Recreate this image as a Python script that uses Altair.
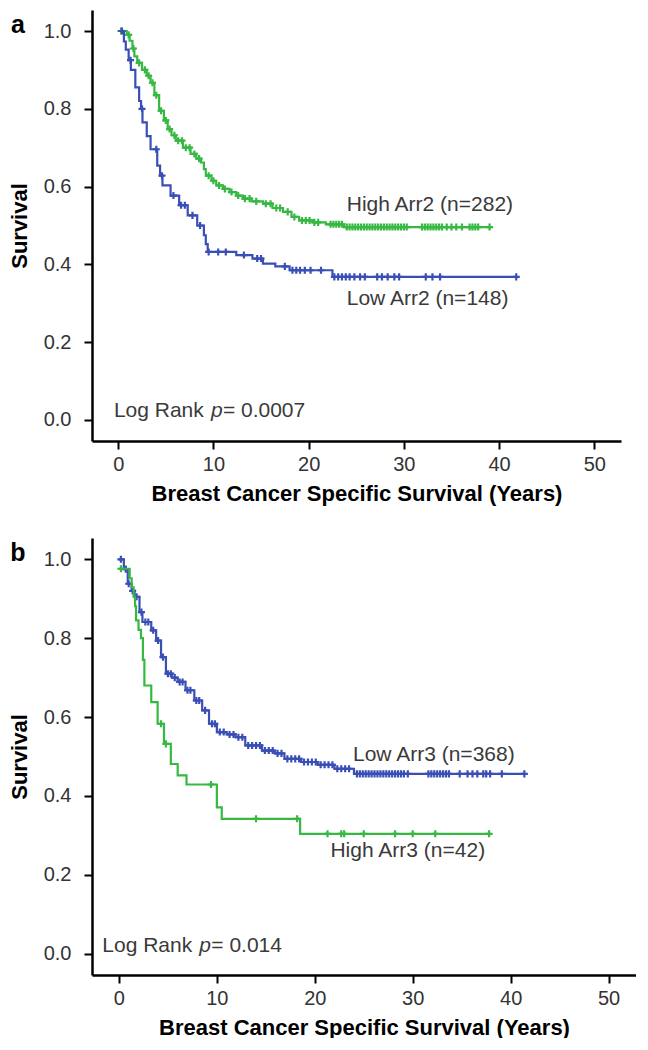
import altair as alt
import pandas as pd

# ---------------- data ----------------
X_TICKS = [0, 10, 20, 30, 40, 50]
Y_TICKS = [0.0, 0.2, 0.4, 0.6, 0.8, 1.0]

# Panel a : High Arr2 (green)
A_HIGH_T = [0.0, 0.9, 1.2, 1.5, 1.7, 2.0, 2.5, 3.0, 3.4, 3.8, 4.3, 4.8, 5.2, 5.6, 6.05,
            6.8, 7.6, 8.2, 8.7, 9.0, 9.2, 9.8, 10.3, 11.0, 11.7, 12.4, 13.1, 14.0, 15.2,
            16.2, 17.3, 18.2, 19.0, 20.5, 21.8, 23.7, 39.0]
A_HIGH_S = [1.0, 0.99, 0.975, 0.955, 0.935, 0.918, 0.9, 0.885, 0.867, 0.835, 0.795, 0.77,
            0.748, 0.732, 0.718, 0.7, 0.684, 0.672, 0.662, 0.645, 0.628, 0.615, 0.603, 0.594,
            0.586, 0.577, 0.569, 0.562, 0.556, 0.545, 0.535, 0.522, 0.513, 0.508, 0.503,
            0.496, 0.496]
A_HIGH_CENS = [0.3, 1.1, 1.6, 2.2, 2.8, 3.2, 3.6, 4.0, 4.5, 5.0, 5.4, 5.9, 6.3, 6.7, 7.1,
               7.5, 8.0, 8.5, 9.5, 10.0, 10.6, 11.2, 11.9, 12.6, 13.3, 13.8, 14.5, 15.5,
               16.0, 16.6, 17.0, 17.8, 18.5, 19.3, 19.7, 20.1, 20.6, 21.0, 22.3, 22.6, 22.9,
               23.2, 23.5, 24.0, 24.3, 24.6, 24.9, 25.2, 25.5, 25.8, 26.1, 26.4, 26.7, 27.0,
               27.3, 27.6, 27.9, 28.2, 28.5, 28.8, 29.1, 29.4, 29.7, 30.0, 30.3, 31.9, 32.2,
               32.5, 32.8, 33.1, 33.4, 33.7, 34.0, 34.5, 35.0, 35.5, 36.1, 36.9, 37.2, 37.5,
               37.8, 39.0]

# Panel a : Low Arr2 (blue)
A_LOW_T = [0.0, 0.6, 0.8, 1.1, 1.33, 1.8, 2.2, 2.4, 2.55, 3.0, 3.4, 4.1, 4.4, 4.65, 5.5,
           6.4, 7.3, 8.3, 9.0, 9.2, 9.4, 12.4, 14.1, 15.2, 16.5, 18.0, 22.5, 41.8]
A_LOW_S = [1.0, 0.973, 0.952, 0.925, 0.9, 0.855, 0.82, 0.8, 0.765, 0.73, 0.696, 0.654,
           0.628, 0.603, 0.577, 0.552, 0.526, 0.5, 0.475, 0.452, 0.432, 0.424, 0.415,
           0.402, 0.395, 0.385, 0.368, 0.368]
A_LOW_CENS = [0.4, 1.3, 2.5, 4.0, 4.6, 5.8, 6.6, 7.0, 7.8, 8.6, 9.5, 10.5, 11.3, 13.2, 14.6,
              15.0, 17.5, 18.3, 18.7, 19.1, 19.6, 20.2, 21.3, 22.7, 23.1, 23.5, 23.9, 24.3,
              24.8, 25.4, 25.9, 27.2, 27.7, 28.3, 29.0, 29.5, 32.3, 33.0, 33.8, 41.8]

# Panel b : Low Arr3 (blue)
B_LOW_T = [0.0, 0.5, 0.9, 1.3, 1.6, 2.1, 2.4, 3.3, 3.8, 4.3, 4.8, 5.4, 6.0, 6.8, 7.7, 8.5,
           9.2, 10.0, 11.0, 11.9, 12.9, 14.6, 15.9, 16.9, 18.6, 20.3, 22.0, 24.0, 41.4]
B_LOW_S = [1.0, 0.975, 0.938, 0.92, 0.905, 0.866, 0.841, 0.82, 0.794, 0.752, 0.71, 0.7,
           0.689, 0.668, 0.642, 0.617, 0.583, 0.562, 0.556, 0.549, 0.528, 0.515, 0.508,
           0.494, 0.486, 0.479, 0.469, 0.456, 0.456]
B_LOW_CENS = [0.2, 0.7, 1.0, 1.4, 1.8, 2.3, 2.7, 3.0, 3.5, 4.0, 4.5, 5.0, 5.3, 5.7, 6.2,
              6.5, 7.0, 7.3, 7.9, 8.2, 8.8, 9.5, 9.8, 10.3, 10.7, 11.3, 11.7, 12.2, 12.6,
              13.2, 13.6, 14.0, 14.4, 14.9, 15.3, 15.7, 16.2, 16.6, 17.2, 17.6, 18.0, 18.4,
              18.9, 19.3, 19.7, 20.1, 20.6, 21.0, 21.4, 21.8, 22.3, 22.7, 23.1, 23.5, 24.3,
              24.6, 24.9, 25.2, 25.5, 25.8, 26.1, 26.4, 26.7, 27.0, 27.3, 27.6, 27.9, 28.2,
              28.5, 28.8, 29.1, 29.5, 31.6, 31.9, 32.2, 32.5, 32.8, 33.1, 33.4, 33.7, 34.8,
              35.6, 36.1, 36.6, 37.2, 37.5, 37.9, 39.1, 41.4]

# Panel b : High Arr3 (green)
B_HIGH_T = [0.0, 1.1, 1.3, 1.5, 1.65, 1.75, 2.0, 2.25, 2.45, 2.6, 3.3, 3.95, 4.6, 5.3,
            6.0, 6.9, 10.0, 10.5, 18.5, 37.8]
B_HIGH_S = [0.976, 0.952, 0.929, 0.905, 0.881, 0.845, 0.821, 0.8, 0.745, 0.68, 0.638,
            0.583, 0.532, 0.481, 0.452, 0.429, 0.371, 0.342, 0.304, 0.304]
B_HIGH_CENS = [0.2, 4.3, 4.8, 9.4, 14.0, 18.2, 21.3, 22.7, 23.0, 25.0, 28.2, 30.0, 32.3,
               37.8]

GREEN = "#36b843"
BLUE = "#3a4fb6"
FONT = "Liberation Sans"
TXT = "#3a3a3a"


def surv_at(ts, ss, t):
    v = ss[0]
    for ti, si in zip(ts, ss):
        if ti <= t + 1e-9:
            v = si
    return v


def panel(letter, series, labels, p_value, p_pos, width, height):
    xenc = alt.X("t:Q",
                 scale=alt.Scale(domain=[-2.75, 52.8], nice=False, zero=False),
                 axis=alt.Axis(values=X_TICKS, format="d", grid=False,
                               title="Breast Cancer Specific Survival (Years)"))
    yenc = alt.Y("s:Q",
                 scale=alt.Scale(domain=[-0.054, 1.054], nice=False, zero=False),
                 axis=alt.Axis(values=Y_TICKS, format=".1f", grid=False,
                               title="Survival"))
    layers = []
    for ts, ss, cens, color in series:
        ldf = pd.DataFrame({"t": ts, "s": ss})
        layers.append(
            alt.Chart(ldf).mark_line(interpolate="step-after", color=color,
                                     strokeWidth=2.2).encode(x=xenc, y=yenc))
        cdf = pd.DataFrame({"t": cens, "s": [surv_at(ts, ss, c) for c in cens]})
        layers.append(
            alt.Chart(cdf).mark_point(shape="M0,-1L0,1M-1,0L1,0", filled=False,
                                      color=color, strokeWidth=2.2, size=50,
                                      opacity=1).encode(x=xenc, y=yenc))
    one = pd.DataFrame({"k": [0]})
    for text, tx, sy in labels:
        layers.append(
            alt.Chart(one).mark_text(align="left", baseline="middle", fontSize=21,
                                     font=FONT, color=TXT).encode(
                x=alt.datum(tx), y=alt.datum(sy), text=alt.value(text)))
    px, py = p_pos
    for piece, dx, style in [("Log Rank", 0, "normal"), ("p", 97, "italic"),
                             ("= " + p_value, 109, "normal")]:
        layers.append(
            alt.Chart(one).mark_text(align="left", baseline="middle", fontSize=21,
                                     font=FONT, color=TXT, fontStyle=style,
                                     dx=dx).encode(
                x=alt.datum(px), y=alt.datum(py), text=alt.value(piece)))
    layers.append(
        alt.Chart(one).mark_text(align="center", baseline="middle", fontSize=25,
                                 font=FONT, fontWeight="bold", color="black").encode(
            x=alt.value(-74), y=alt.value(14.5), text=alt.value(letter)))
    return alt.layer(*layers).properties(width=width, height=height)


pa = panel("a",
           [(A_HIGH_T, A_HIGH_S, A_HIGH_CENS, GREEN),
            (A_LOW_T, A_LOW_S, A_LOW_CENS, BLUE)],
           [("High Arr2 (n=282)", 24.0, 0.552), ("Low Arr2 (n=148)", 24.0, 0.312)],
           "0.0007", (-0.45, 0.023), 529, 431)

pb = panel("b",
           [(B_LOW_T, B_LOW_S, B_LOW_CENS, BLUE),
            (B_HIGH_T, B_HIGH_S, B_HIGH_CENS, GREEN)],
           [("Low Arr3 (n=368)", 23.9, 0.503), ("High Arr3 (n=42)", 21.6, 0.261)],
           "0.014", (-1.7, 0.02), 544, 437)

chart = alt.vconcat(pa, pb, spacing=34).properties(
    padding={"left": 0, "top": 2, "right": 0, "bottom": 0}).configure_view(
    strokeWidth=0).configure_axis(
    domainColor="black", domainWidth=2.5, tickColor="black", tickWidth=2, tickSize=8,
    labelFont=FONT, labelFontSize=20, labelColor="#333333",
    titleFont=FONT, titleFontSize=22, titleFontWeight="bold", titleColor="black"
).configure_axisX(labelPadding=5, titlePadding=9).configure_axisY(
    labelPadding=13, titlePadding=12)

chart.save("out.html", embed_options={"renderer": "svg", "actions": False})
